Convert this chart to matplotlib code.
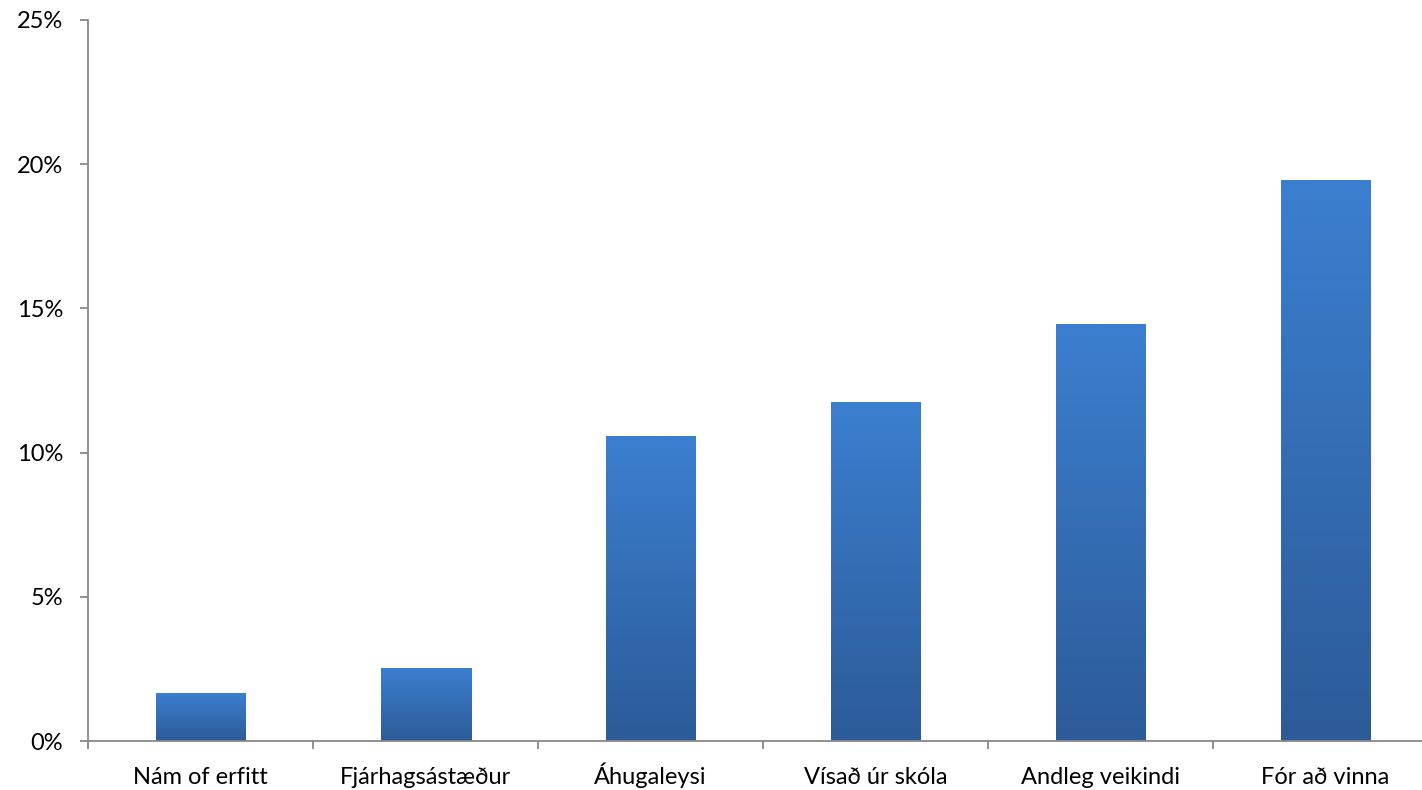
import numpy as np
import matplotlib
matplotlib.use('Agg')
import matplotlib.pyplot as plt
from matplotlib.colors import LinearSegmentedColormap
from matplotlib.ticker import FuncFormatter, MultipleLocator

# Ástæður brotthvarfs úr námi (hlutfall)
categories = ['Nám of erfitt', 'Fjárhagsástæður', 'Áhugaleysi',
              'Vísað úr skóla', 'Andleg veikindi', 'Fór að vinna']
values = [1.63, 2.53, 10.55, 11.72, 14.43, 19.45]

plt.rcParams['font.family'] = ['Lato', 'DejaVu Sans']

fig = plt.figure(figsize=(14.22, 7.90), dpi=100)
# axis runs past the right edge of the picture, as in the reference
ax = fig.add_axes([88 / 1422, 1 - 741 / 790, 1350 / 1422, 721 / 790])

x = np.arange(len(categories))
bars = ax.bar(x, values, width=0.4, color='none', zorder=2)

grad = LinearSegmentedColormap.from_list('bar', ['#2c5b98', '#3c7fd0'])
for b in bars:
    x0, y0 = b.get_x(), b.get_y()
    w, h = b.get_width(), b.get_height()
    img = np.linspace(0, 1, 256).reshape(-1, 1)
    ax.imshow(img, cmap=grad, origin='lower', aspect='auto',
              extent=[x0, x0 + w, y0, y0 + h], zorder=2)

ax.set_xlim(-0.5, 5.5)
ax.set_ylim(0, 25)

ax.yaxis.set_major_locator(MultipleLocator(5))
ax.yaxis.set_major_formatter(FuncFormatter(lambda v, p: f'{v:.0f}%'))
ax.set_xticks(np.arange(-0.5, 6.0, 1.0))
ax.set_xticklabels([])
ax.set_xticks(x, minor=True)
ax.set_xticklabels(categories, minor=True, va='baseline')
ax.tick_params(axis='x', which='minor', length=0, pad=31, labelsize=17)
ax.tick_params(axis='x', which='major', length=6, color='#888888', width=1.3)
ax.tick_params(axis='y', length=6, color='#888888', width=1.3, labelsize=17, pad=12)

for s in ['top', 'right']:
    ax.spines[s].set_visible(False)
for s in ['left', 'bottom']:
    ax.spines[s].set_color('#888888')
    ax.spines[s].set_linewidth(1.3)

fig.savefig('out.png', dpi=100)
